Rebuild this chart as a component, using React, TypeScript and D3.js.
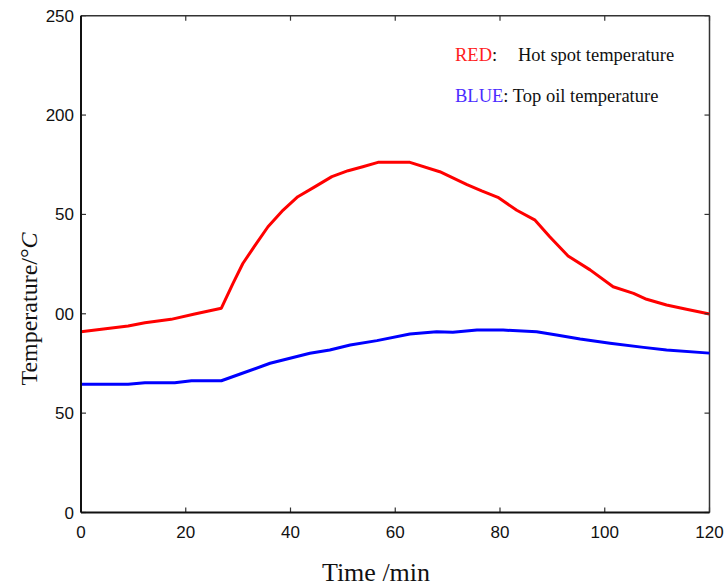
import React from "react";
import * as d3 from "d3";

const hotSpotTime = [0, 9, 12.2, 17.2, 21.7, 26.8, 29.0, 30.9, 33.2, 35.7, 38.6, 41.4, 44.7, 47.9, 51.0, 53.8, 56.7, 62.8, 68.5, 73.7, 76.5, 79.6, 83.2, 86.7, 89.5, 93.0, 97.2, 101.6, 105.5, 108.0, 111.8, 115.6, 120];
const hotSpotTemp = [91.0, 93.9, 95.5, 97.2, 99.9, 102.8, 115.2, 125.3, 134.3, 143.8, 152.2, 158.9, 164.0, 169.0, 172.0, 174.0, 176.2, 176.2, 171.5, 165.0, 161.8, 158.6, 152.1, 147.1, 138.8, 129.1, 122.1, 113.6, 110.3, 107.3, 104.4, 102.3, 99.9];

const topOilTime = [0, 9.0, 12.2, 17.9, 21.1, 26.8, 30.4, 36.1, 43.7, 47.5, 51.4, 56.5, 62.8, 67.9, 71.0, 75.6, 80.6, 87.0, 90.8, 95.3, 101.0, 107.4, 111.8, 120];
const topOilTemp = [64.5, 64.5, 65.3, 65.3, 66.3, 66.3, 69.7, 75.1, 80.1, 81.8, 84.3, 86.5, 89.8, 91.0, 90.7, 91.8, 91.8, 91.0, 89.3, 87.3, 85.2, 83.1, 81.8, 80.2];

const xTicks = [0, 20, 40, 60, 80, 100, 120];
const yTicks = [0, 50, 100, 150, 200, 250];
const yTickLabels = ["0", "50", "00", "50", "200", "250"];

const W = 728;
const H = 586;
const M = { left: 81, right: 709.5, top: 15.7, bottom: 512.5 };

export default function App() {
  const x = d3.scaleLinear().domain([0, 120]).range([M.left, M.right]);
  const y = d3.scaleLinear().domain([0, 250]).range([M.bottom, M.top]);

  const line = d3
    .line<[number, number]>()
    .x((d) => x(d[0]))
    .y((d) => y(d[1]));

  const red = hotSpotTime.map((t, i) => [t, hotSpotTemp[i]] as [number, number]);
  const blue = topOilTime.map((t, i) => [t, topOilTemp[i]] as [number, number]);

  const sans = "'Liberation Sans', Arial, sans-serif";
  const serif = "'Liberation Serif', 'Times New Roman', serif";
  const tl = 5;

  return (
    <svg
      width={W}
      height={H}
      style={{ position: "absolute", left: 0, top: 0, background: "#fff" }}
    >
      <rect x={0} y={0} width={W} height={H} fill="#fff" />
      {/* frame top/right */}
      <line x1={M.left} x2={M.right} y1={M.top} y2={M.top} stroke="#333" strokeWidth={1.5} />
      <line x1={M.right} x2={M.right} y1={M.top} y2={M.bottom} stroke="#333" strokeWidth={1.5} />

      {/* data lines */}
      <path d={line(blue) || ""} fill="none" stroke="#0000ff" strokeWidth={3} strokeLinejoin="round" />
      <path d={line(red) || ""} fill="none" stroke="#ff0000" strokeWidth={3} strokeLinejoin="round" />

      {/* ticks */}
      {xTicks.map((t) => (
        <g key={"xt" + t}>
          <line x1={x(t)} x2={x(t)} y1={M.bottom} y2={M.bottom - tl} stroke="#333" strokeWidth={1.2} />
          <line x1={x(t)} x2={x(t)} y1={M.top} y2={M.top + tl} stroke="#333" strokeWidth={1.2} />
          <text
            x={x(t)}
            y={M.bottom + 25}
            textAnchor="middle"
            fontFamily={sans}
            fontSize={17}
            fill="#111"
          >
            {t}
          </text>
        </g>
      ))}
      {yTicks.map((v, i) => (
        <g key={"yt" + v}>
          <line x1={M.left} x2={M.left + tl} y1={y(v)} y2={y(v)} stroke="#333" strokeWidth={1.2} />
          <line x1={M.right} x2={M.right - tl} y1={y(v)} y2={y(v)} stroke="#333" strokeWidth={1.2} />
          <text
            x={M.left - 7}
            y={y(v) + 6}
            textAnchor="end"
            fontFamily={sans}
            fontSize={17}
            fill="#111"
          >
            {yTickLabels[i]}
          </text>
        </g>
      ))}

      {/* axes left/bottom */}
      <line x1={M.left} x2={M.left} y1={M.top} y2={M.bottom} stroke="#111" strokeWidth={2} />
      <line x1={M.left} x2={M.right} y1={M.bottom} y2={M.bottom} stroke="#111" strokeWidth={2} />

      {/* legend text */}
      <text x={455} y={61} fontFamily={serif} fontSize={18.5} fill="#111">
        <tspan fill="#ff2020">RED</tspan>
        <tspan>:</tspan>
      </text>
      <text x={518} y={61} fontFamily={serif} fontSize={18.5} fill="#111">
        Hot spot temperature
      </text>
      <text x={455} y={102} fontFamily={serif} fontSize={18.5} fill="#111">
        <tspan fill="#4b2bff">BLUE</tspan>
        <tspan>: Top oil temperature</tspan>
      </text>

      {/* axis labels */}
      <text
        x={376}
        y={581}
        textAnchor="middle"
        fontFamily={serif}
        fontSize={26}
        fill="#111"
      >
        Time /min
      </text>
      <text
        transform={`translate(37, 309) rotate(-90)`}
        textAnchor="middle"
        fontFamily={serif}
        fontSize={24}
        fill="#111"
      >
        Temperature/°<tspan fontStyle="italic">C</tspan>
      </text>
    </svg>
  );
}
